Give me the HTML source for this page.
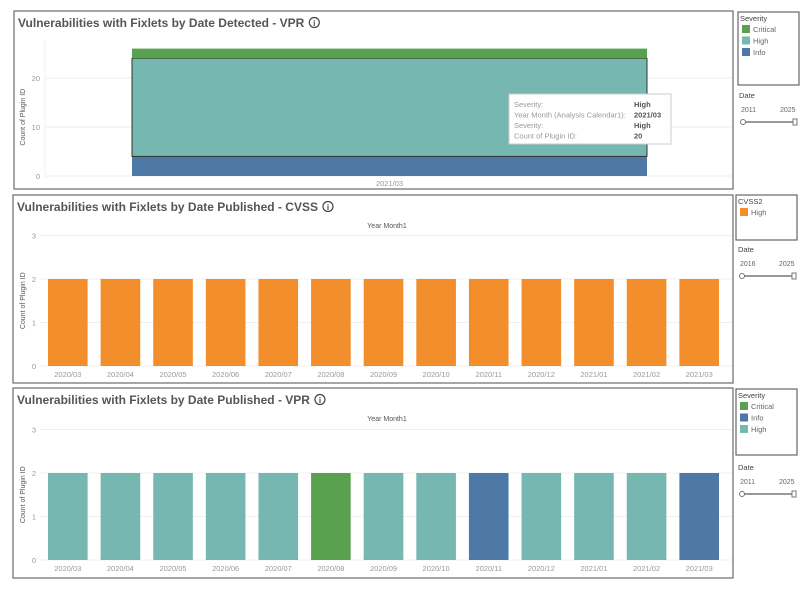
<!DOCTYPE html>
<html><head><meta charset="utf-8"><style>
body{margin:0;background:#fff;width:811px;height:589px;overflow:hidden;font-family:"Liberation Sans",sans-serif}
svg text{font-family:"Liberation Sans",sans-serif}
</style></head><body>
<svg id="s" width="811" height="589" xmlns="http://www.w3.org/2000/svg"></svg>
<script>
const months=["2020/03","2020/04","2020/05","2020/06","2020/07","2020/08","2020/09","2020/10","2020/11","2020/12","2021/01","2021/02","2021/03"];
const cvssValues=[2,2,2,2,2,2,2,2,2,2,2,2,2];
const vprValues=[2,2,2,2,2,2,2,2,2,2,2,2,2];
const vprSeverity=["High","High","High","High","High","Critical","High","High","Info","High","High","High","Info"];
const detCategories=["2021/03"];
const detInfo=[4];
const detHigh=[20];
const detCritical=[2];
const topTicks=[0,10,20];
const smallTicks=[0,1,2,3];
const colors={Critical:"#59a14f",High:"#76b7b2",Info:"#4e79a7",Orange:"#f28e2b"};
const S=document.getElementById('s');
const NS="http://www.w3.org/2000/svg";
function el(t,a,txt){const e=document.createElementNS(NS,t);for(const k in a)e.setAttribute(k,a[k]);if(txt!==undefined)e.textContent=txt;S.appendChild(e);return e;}
function panel(x,y,w,h,title,name){
 const r=el('rect',{x:x,y:y,width:w,height:h,fill:'#fff',stroke:'#777','stroke-width':1.3});
 
 const t=el('text',{x:x+4,y:y+16,'font-size':12,'font-weight':'bold',fill:'#555'},title);
 
 const bb=t.getComputedTextLength();
 const c=el('circle',{cx:x+4+bb+10,cy:y+11.5,r:5,fill:'none',stroke:'#444','stroke-width':1.2});
 
 el('text',{x:x+4+bb+10,y:y+15,'font-size':8,'text-anchor':'middle',fill:'#444','font-weight':'bold'},'i');
}
function ylabel(x,y){const t=el('text',{x:0,y:0,'font-size':7,fill:'#555',transform:`translate(${x},${y}) rotate(-90)`,'text-anchor':'middle'},'Count of Plugin ID');
 }
function legend(x,y,h,title,items,name){
 const r=el('rect',{x:x,y:y,width:61,height:h,fill:'#fff',stroke:'#666','stroke-width':1.2});
 
 el('text',{x:x+2,y:y+9,'font-size':7.5,fill:'#444'},title);
 items.forEach((it,i)=>{const s=el('rect',{x:x+4,y:y+13+i*11.5,width:8,height:8,fill:colors[it[1]]});
  
  el('text',{x:x+15,y:y+20+i*11.5,'font-size':7.5,fill:'#666'},it[0]);});
}
function slider(x,y,a,b,name){
 el('text',{x:x,y:y,'font-size':7.5,fill:'#444'},'Date');
 el('text',{x:x+2,y:y+14,'font-size':7,fill:'#666'},a);
 el('text',{x:x+41,y:y+14,'font-size':7,fill:'#666'},b);
 const l=el('line',{x1:x+4,y1:y+24,x2:x+56,y2:y+24,stroke:'#999','stroke-width':2});
 
 el('circle',{cx:x+4,cy:y+24,r:2.5,fill:'#fff',stroke:'#777'});
 el('rect',{x:x+54,y:y+21,width:4,height:6,fill:'#fff',stroke:'#777'});
}
// Panel 1
panel(14,11,719,178,'Vulnerabilities with Fixlets by Date Detected - VPR','detected-vpr');
const y1=v=>176-v*4.9;
topTicks.forEach(t=>{el('line',{x1:45,x2:732,y1:y1(t),y2:y1(t),stroke:'#eee'});el('text',{x:40,y:y1(t)+3,'font-size':7.5,fill:'#999','text-anchor':'end'},t);});
ylabel(25,y1(12));
el('line',{x1:45,x2:45,y1:40,y2:178,stroke:'#f2f2f2'});
detCategories.forEach((c,i)=>{
 const x=132,w=515;let base=0;
 [[detInfo[i],'Info'],[detHigh[i],'High'],[detCritical[i],'Critical']].forEach(([v,k])=>{
  const r=el('rect',{x:x,y:y1(base+v),width:w,height:v*4.9,fill:colors[k],stroke:k==='High'?'#333':'none','stroke-width':1});
  base+=v;});
 el('text',{x:x+w/2,y:186,'font-size':7.5,fill:'#999','text-anchor':'middle'},c);
});
const tt=el('rect',{x:509,y:94,width:162,height:50,fill:'#fff',stroke:'#ccc'});

[['Severity:','High'],['Year Month (Analysis Calendar1):','2021/03'],['Severity:','High'],['Count of Plugin ID:','20']].forEach((p,i)=>{
 el('text',{x:514,y:107+i*10.5,'font-size':7.5,fill:'#999'},p[0]);el('text',{x:634,y:107+i*10.5,'font-size':7.5,fill:'#555','font-weight':'bold'},p[1]);});
legend(738,12,73,'Severity',[['Critical','Critical'],['High','High'],['Info','Info']],'detected');
slider(739,98,'2011','2025','detected');
// bar panels
function barPanel(py,ph,title,name,vals,colFn,zeroY){
 panel(13,py,720,ph,title,name);
 const yy=v=>zeroY-v*43.5;
 el('text',{x:387,y:py+33,'font-size':7,fill:'#555','text-anchor':'middle'},'Year Month1');
 smallTicks.forEach(t=>{el('line',{x1:40,x2:732,y1:yy(t),y2:yy(t),stroke:'#f0f0f0'});el('text',{x:36,y:yy(t)+3,'font-size':7.5,fill:'#999','text-anchor':'end'},t);});
 ylabel(25,yy(1.5));
 const x0=43,step=(727-x0)/months.length;
 months.forEach((m,i)=>{const x=x0+i*step+5;
  const r=el('rect',{x:x,y:yy(vals[i]),width:step-13,height:vals[i]*43.5,fill:colFn(i)});
  
  el('text',{x:x+(step-13)/2,y:zeroY+11,'font-size':7.5,fill:'#999','text-anchor':'middle'},m);});
}
barPanel(195,188,'Vulnerabilities with Fixlets by Date Published - CVSS','published-cvss',cvssValues,i=>colors.Orange,366);
legend(736,195,45,'CVSS2',[['High','Orange']],'cvss');
slider(738,252,'2016','2025','cvss');
barPanel(388,190,'Vulnerabilities with Fixlets by Date Published - VPR','published-vpr',vprValues,i=>colors[vprSeverity[i]],560);
legend(736,389,66,'Severity',[['Critical','Critical'],['Info','Info'],['High','High']],'published');
slider(738,470,'2011','2025','published');
</script>
</body></html>
